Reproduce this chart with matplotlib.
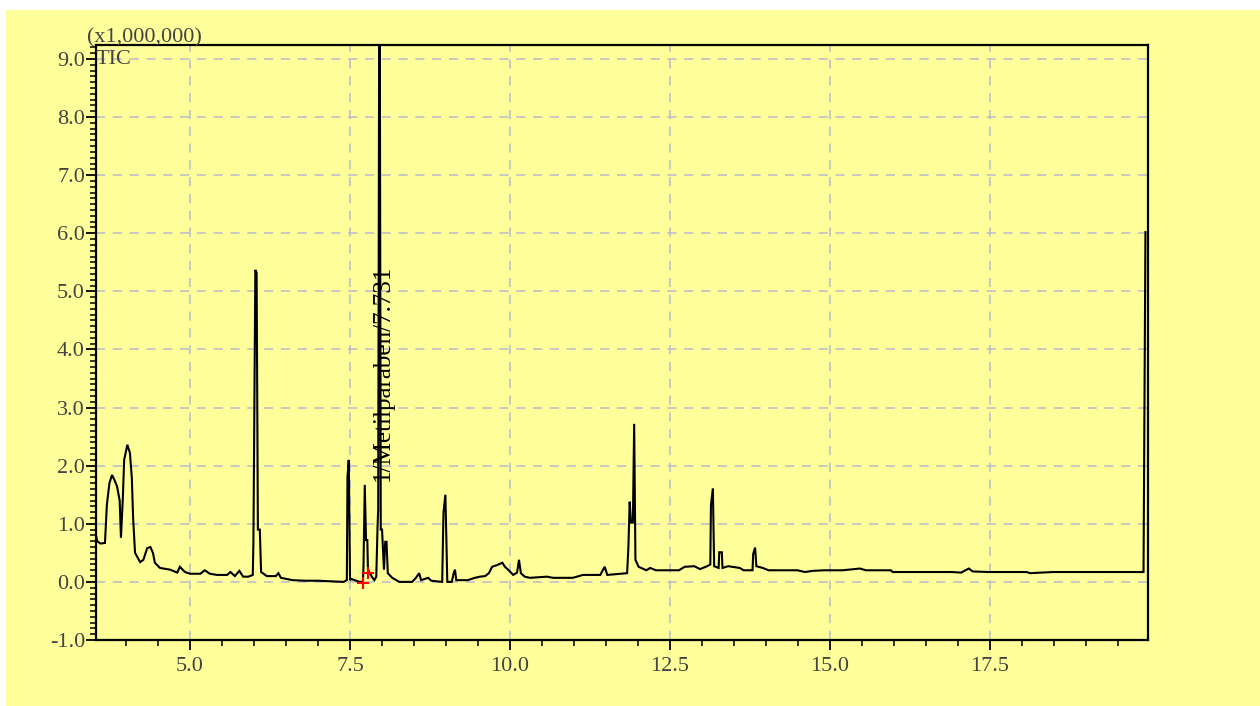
import matplotlib
matplotlib.use("Agg")
import matplotlib.pyplot as plt
from matplotlib.patches import Rectangle
from matplotlib.ticker import MultipleLocator, FormatStrFormatter

# Retention time (min) and TIC intensity (x1,000,000)
time_min = [3.53, 3.55, 3.60, 3.67, 3.70, 3.74, 3.78, 3.82, 3.86, 3.90, 3.92, 3.95,
            3.97, 4.02, 4.06, 4.09, 4.11, 4.14, 4.22, 4.27, 4.33, 4.38, 4.42, 4.45,
            4.53, 4.69, 4.80, 4.84, 4.92, 5.00, 5.16, 5.23, 5.31, 5.42, 5.58, 5.63,
            5.70, 5.77, 5.83, 5.91, 5.98, 5.99, 6.02, 6.04, 6.06, 6.09, 6.11, 6.20,
            6.34, 6.38, 6.42, 6.60, 6.80, 7.00, 7.20, 7.40, 7.45, 7.46, 7.48, 7.50,
            7.52, 7.65, 7.70, 7.71, 7.73, 7.75, 7.77, 7.78, 7.84, 7.88, 7.91, 7.93,
            7.94, 7.96, 7.98, 8.00, 8.03, 8.05, 8.07, 8.09, 8.16, 8.27, 8.47, 8.53,
            8.58, 8.61, 8.72, 8.77, 8.94, 8.96, 8.99, 9.02, 9.09, 9.12, 9.14, 9.16,
            9.34, 9.45, 9.53, 9.61, 9.67, 9.72, 9.80, 9.88, 9.92, 9.97, 10.05, 10.11,
            10.14, 10.17, 10.23, 10.31, 10.58, 10.67, 10.98, 11.14, 11.25, 11.41, 11.48, 11.52,
            11.83, 11.85, 11.87, 11.89, 11.92, 11.94, 11.96, 12.01, 12.13, 12.19, 12.28, 12.64,
            12.73, 12.88, 12.97, 13.08, 13.13, 13.14, 13.17, 13.19, 13.26, 13.27, 13.31, 13.32,
            13.41, 13.59, 13.65, 13.79, 13.80, 13.83, 13.85, 13.95, 14.04, 14.49, 14.61, 14.73,
            14.91, 15.20, 15.47, 15.56, 15.95, 15.98, 16.90, 17.05, 17.17, 17.23, 17.47, 18.07,
            18.13, 18.48, 19.02, 19.90, 19.93]
intensity = [0.80, 0.70, 0.66, 0.67, 1.33, 1.70, 1.84, 1.75, 1.64, 1.40, 0.76, 1.46,
             2.10, 2.36, 2.22, 1.79, 1.10, 0.50, 0.34, 0.38, 0.58, 0.60, 0.50, 0.33,
             0.24, 0.21, 0.16, 0.26, 0.17, 0.14, 0.14, 0.20, 0.14, 0.12, 0.12, 0.17,
             0.10, 0.19, 0.09, 0.09, 0.12, 0.69, 5.37, 5.32, 0.90, 0.90, 0.17, 0.10,
             0.10, 0.15, 0.07, 0.03, 0.02, 0.02, 0.01, 0.00, 0.03, 1.81, 2.10, 0.03,
             0.05, 0.00, 0.00, 0.26, 1.67, 0.72, 0.72, 0.21, 0.09, 0.03, 0.09, 0.95,
             1.24, 12.40, 0.90, 0.90, 0.21, 0.69, 0.69, 0.15, 0.07, 0.00, 0.00, 0.07,
             0.15, 0.03, 0.07, 0.02, 0.00, 1.19, 1.50, 0.00, 0.00, 0.15, 0.21, 0.03,
             0.03, 0.07, 0.09, 0.10, 0.15, 0.26, 0.29, 0.33, 0.26, 0.21, 0.12, 0.16,
             0.38, 0.15, 0.09, 0.07, 0.09, 0.07, 0.07, 0.12, 0.12, 0.12, 0.26, 0.12,
             0.15, 0.60, 1.38, 1.02, 1.02, 2.72, 0.38, 0.26, 0.20, 0.24, 0.20, 0.20,
             0.26, 0.27, 0.22, 0.27, 0.30, 1.32, 1.61, 0.27, 0.24, 0.51, 0.51, 0.24,
             0.27, 0.24, 0.20, 0.20, 0.48, 0.59, 0.27, 0.24, 0.20, 0.20, 0.17, 0.19,
             0.20, 0.20, 0.23, 0.20, 0.20, 0.17, 0.17, 0.16, 0.23, 0.18, 0.17, 0.17,
             0.15, 0.17, 0.17, 0.17, 6.02]

# Integration markers (peak start / end) for the labelled peak
marker_time = [7.70, 7.78]
marker_intensity = [-0.02, 0.15]

peak_label = "1/Metilparaben/7.731"
scale_label = "(x1,000,000)"
trace_label = "TIC"

bg = "#fefe9a"
tick_color = "#444444"
serif = ["Liberation Serif", "DejaVu Serif"]

fig = plt.figure(figsize=(12.6, 7.06), dpi=100, facecolor="white")
fig.patches.append(Rectangle((6 / 1260, 0), 1, 1 - 10 / 706, transform=fig.transFigure,
                             facecolor=bg, edgecolor="none", zorder=-10))

ax = fig.add_axes([96 / 1260, 1 - 640 / 706, (1148 - 96) / 1260, (640 - 45) / 706])
ax.set_facecolor(bg)

ax.plot(time_min, intensity, color="black", lw=1.5, solid_joinstyle="miter", zorder=3)
ax.plot(marker_time, marker_intensity, linestyle="none", marker="+", color="red",
        markersize=8, mew=1.5, zorder=4)

ax.set_xlim(3.53, 19.97)
ax.set_ylim(-1.0, 9.24)

ax.xaxis.set_major_locator(MultipleLocator(2.5))
ax.xaxis.set_minor_locator(MultipleLocator(0.5))
ax.yaxis.set_major_locator(MultipleLocator(1.0))
ax.yaxis.set_minor_locator(MultipleLocator(0.1))
ax.xaxis.set_major_formatter(FormatStrFormatter("%.1f"))
ax.yaxis.set_major_formatter(FormatStrFormatter("%.1f"))

ax.tick_params(axis="both", which="major", direction="out", length=7, width=1.3,
               colors="black", labelcolor=tick_color, labelsize=16)
ax.tick_params(axis="both", which="minor", direction="out", length=4, width=1.1,
               colors="black")
ax.tick_params(axis="x", which="major", pad=5)
ax.tick_params(axis="y", which="major", pad=1)
for lab in ax.get_xticklabels() + ax.get_yticklabels():
    lab.set_family(serif)

for sp in ax.spines.values():
    sp.set_linewidth(1.6)
    sp.set_color("black")

ax.grid(True, which="major", linestyle=(0, (6, 5)), color="#b8bacb", linewidth=1.1, zorder=1)

ax.text(-0.009, 0.9966, scale_label, transform=ax.transAxes, ha="left", va="bottom",
        fontsize=16, color=tick_color, family=serif)
ax.text(0.0, 0.991, trace_label, transform=ax.transAxes, ha="left", va="top",
        fontsize=16, color=tick_color, family=serif)

ax.text(8.02, 3.6, peak_label, rotation=90, ha="center", va="center",
        fontsize=18, color="black", family=serif, zorder=5)

fig.savefig("out.png", dpi=100, facecolor="white")
